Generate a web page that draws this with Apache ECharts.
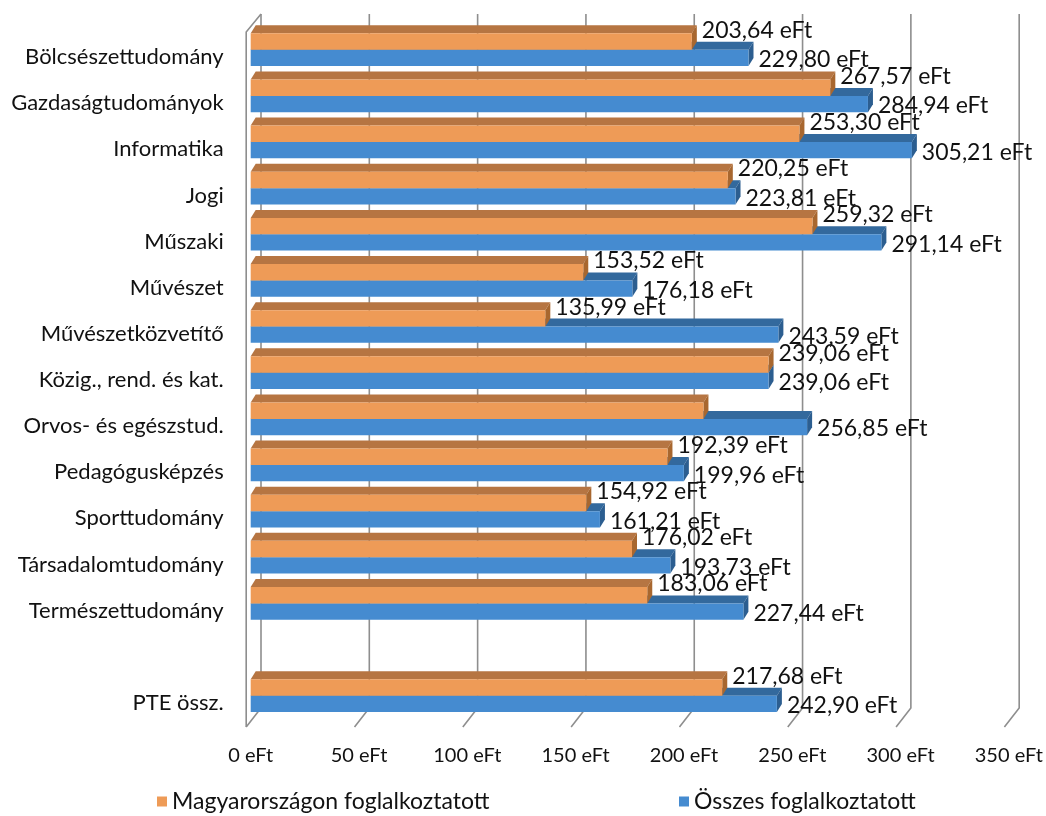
<!DOCTYPE html>
<html>
<head>
<meta charset="utf-8">
<script src="https://cdn.jsdelivr.net/npm/echarts@6/dist/echarts.min.js"></script>
<style>
  html, body { margin: 0; padding: 0; background: #ffffff; }
  #chart { width: 1046px; height: 816px; }
</style>
</head>
<body>
<div id="chart"></div>
<script>
const categories = ['Bölcsészettudomány', 'Gazdaságtudományok', 'Informatika', 'Jogi', 'Műszaki', 'Művészet', 'Művészetközvetítő', 'Közig., rend. és kat.', 'Orvos- és egészstud.', 'Pedagógusképzés', 'Sporttudomány', 'Társadalomtudomány', 'Természettudomány', '', 'PTE össz.'];
const hungaryValues = [203.64, 267.57, 253.30, 220.25, 259.32, 153.52, 135.99, 239.06, 209.0, 192.39, 154.92, 176.02, 183.06, null, 217.68];
const totalValues = [229.80, 284.94, 305.21, 223.81, 291.14, 176.18, 243.59, 239.06, 256.85, 199.96, 161.21, 193.73, 227.44, null, 242.90];
const hungaryLabelShown = [true, true, true, true, true, true, true, true, false, true, true, true, true, false, true];
const totalLabelShown = [true, true, true, true, true, true, true, true, true, true, true, true, true, false, true];
const xTicks = [0, 50, 100, 150, 200, 250, 300, 350];
const seriesNames = ['Magyarországon foglalkoztatott', 'Összes foglalkoztatott'];

const FONT = 'Lato';
const GRID_COLOR = '#8e8e8e';
const DEPTH_X = 5, DEPTH_Y = -8;

function fmt(v) { return v.toFixed(2).replace('.', ',') + ' eFt'; }

function makeBarRender(kind, colors, shownArr) {
  return function (params, api) {
    const v = api.value(0);
    const ci = api.value(1);
    if (v == null || isNaN(v)) return;
    const p0 = api.coord([0, ci]);
    const p1 = api.coord([v, ci]);
    const h = api.size([0, 1])[1];
    const cy = p0[1];
    let yTop, yBot;
    if (kind === 'orange') { yTop = cy - 0.514 * h; yBot = cy - 0.157 * h; }
    else { yTop = cy - 0.157 * h; yBot = cy + 0.195 * h; }
    const x0 = p0[0], x1 = p1[0];
    const zb = kind === 'orange' ? 20 : 10;
    const children = [
      { type: 'polygon', z2: zb, shape: { points: [[x0, yTop], [x1, yTop], [x1 + DEPTH_X, yTop + DEPTH_Y], [x0 + DEPTH_X, yTop + DEPTH_Y]] }, style: { fill: colors.top } },
      { type: 'polygon', z2: zb, shape: { points: [[x1, yTop], [x1 + DEPTH_X, yTop + DEPTH_Y], [x1 + DEPTH_X, yBot + DEPTH_Y], [x1, yBot]] }, style: { fill: colors.side } },
      { type: 'rect', z2: zb + 1, shape: { x: x0, y: yTop, width: x1 - x0, height: yBot - yTop }, style: { fill: colors.front } }
    ];
    if (shownArr[params.dataIndex]) {
      const ly = kind === 'orange' ? yTop - 3 : (yTop + yBot) / 2 + 2;
      children.push({
        type: 'text', z2: 100,
        style: { text: fmt(v), x: x1 + DEPTH_X + 5, y: ly, verticalAlign: 'middle', align: 'left', fill: '#111', font: '23px ' + FONT }
      });
    }
    return { type: 'group', children: children };
  };
}

function wallRender(params, api) {
  const t = api.value(0);
  const cs = params.coordSys;
  const x = api.coord([t, 0])[0];
  const top = cs.y, bottom = cs.y + cs.height;
  const bx = x + 10.3, fx = x - 4.5;
  const backTop = top - 20, backBot = bottom - 18, frontBot = bottom + 1;
  const st = { stroke: GRID_COLOR, lineWidth: 1.6, fill: null };
  const children = [
    { type: 'polyline', shape: { points: [[bx, backTop], [bx, backBot], [fx, frontBot]] }, style: st }
  ];
  if (t === 0) {
    children.push({ type: 'polyline', shape: { points: [[bx, backTop], [fx, top - 2], [fx, frontBot]] }, style: st });
  }
  return { type: 'group', children: children };
}

const orangeColors = { front: '#EE9B57', top: '#B67542', side: '#A8672F' };
const blueColors = { front: '#458BD0', top: '#33699D', side: '#2C5E90' };

const chart = echarts.init(document.getElementById('chart'), null, { renderer: 'canvas' });
chart.setOption({
  backgroundColor: '#ffffff',
  animation: false,
  textStyle: { fontFamily: FONT },
  grid: { left: 250.7, right: 36.8, top: 34, bottom: 90 },
  xAxis: {
    type: 'value', min: 0, max: 350, interval: 50,
    axisLine: { show: false }, axisTick: { show: false }, splitLine: { show: false },
    axisLabel: { formatter: v => v + ' eFt', fontSize: 20, color: '#111', margin: 20, fontFamily: FONT }
  },
  yAxis: {
    type: 'category', data: categories, inverse: true,
    axisLine: { show: false }, axisTick: { show: false }, splitLine: { show: false },
    axisLabel: { fontSize: 22, color: '#111', margin: 27, fontFamily: FONT }
  },
  legend: [
    { data: [seriesNames[0]], left: 157, top: 790, padding: 0, itemWidth: 10, itemHeight: 10, itemGap: 6, icon: 'rect', textStyle: { fontSize: 23, color: '#111', fontFamily: FONT } },
    { data: [seriesNames[1]], left: 679, top: 790, padding: 0, itemWidth: 10, itemHeight: 10, itemGap: 6, icon: 'rect', textStyle: { fontSize: 23, color: '#111', fontFamily: FONT } }
  ],
  series: [
    {
      type: 'custom', name: 'wall', silent: true, z: 1,
      renderItem: wallRender,
      data: xTicks.map(t => [t, 0]),
      encode: { x: 0 }
    },
    {
      type: 'custom', name: seriesNames[1], z: 2,
      itemStyle: { color: blueColors.front },
      renderItem: makeBarRender('blue', blueColors, totalLabelShown),
      data: totalValues.map((v, i) => [v == null ? '-' : v, i]),
      encode: { x: 0, y: 1 }
    },
    {
      type: 'custom', name: seriesNames[0], z: 2,
      itemStyle: { color: orangeColors.front },
      renderItem: makeBarRender('orange', orangeColors, hungaryLabelShown),
      data: hungaryValues.map((v, i) => [v == null ? '-' : v, i]),
      encode: { x: 0, y: 1 }
    }
  ]
});
</script>
</body>
</html>
